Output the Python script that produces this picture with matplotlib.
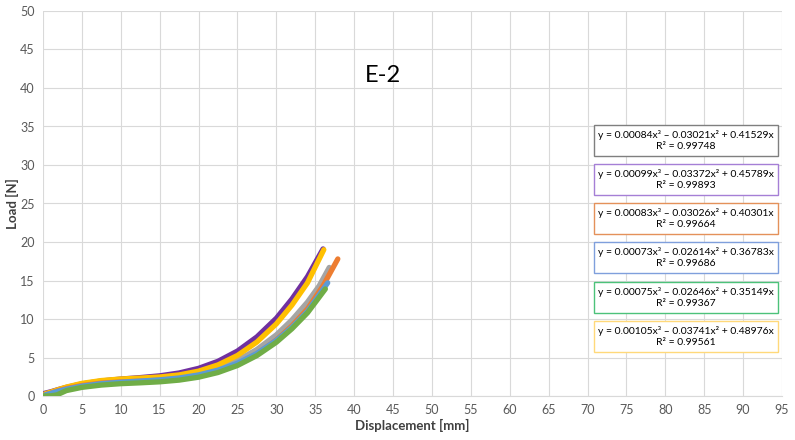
import matplotlib
matplotlib.use("Agg")
import matplotlib.pyplot as plt
from matplotlib.patches import Rectangle

plt.rcParams['font.family'] = ['Lato', 'DejaVu Sans']

# ---- data ----
gray_x = [0.3, 1, 2, 3, 5, 7.5, 10, 12.5, 15, 17.5, 20, 22.5, 25, 27.5, 30, 32, 34, 35.5, 36.8]
gray_y = [0.15, 0.38, 0.70, 0.98, 1.42, 1.77, 1.97, 2.11, 2.27, 2.52, 2.94, 3.62, 4.63, 6.04, 7.95, 9.88, 12.2, 14.3, 16.7]

purple_x = [0.2, 1, 2, 3, 5, 7.5, 10, 12.5, 15, 17.5, 20, 22.5, 25, 27.5, 30, 32, 34, 36.0]
purple_y = [0.35, 0.55, 0.85, 1.12, 1.57, 1.95, 2.20, 2.39, 2.62, 2.99, 3.59, 4.51, 5.84, 7.68, 10.1, 12.6, 15.5, 19.1]

orange_x = [0.3, 1, 2, 3, 5, 7.5, 10, 12.5, 15, 17.5, 20, 22.5, 25, 27.5, 30, 32, 34, 36, 37.9]
orange_y = [0.15, 0.37, 0.69, 0.96, 1.36, 1.67, 1.83, 1.93, 2.04, 2.23, 2.60, 3.20, 4.13, 5.46, 7.27, 9.11, 11.3, 14.3, 17.8]

blue_x = [0.3, 1, 2, 3, 5, 7.5, 10, 12.5, 15, 17.5, 20, 22.5, 25, 27.5, 30, 32, 34, 36.6]
blue_y = [0.15, 0.34, 0.64, 0.89, 1.28, 1.60, 1.79, 1.94, 2.10, 2.34, 2.74, 3.36, 4.26, 5.53, 7.22, 8.92, 11.0, 14.7]

green_x = [0, 1, 1.8, 3, 5, 7.5, 10, 12.5, 15, 17.5, 20, 22.5, 25, 27.5, 30, 32, 34, 36.3]
green_y = [0.0, 0.02, 0.15, 0.70, 1.12, 1.42, 1.60, 1.71, 1.84, 2.06, 2.44, 3.05, 3.96, 5.25, 6.98, 8.73, 10.8, 13.9]

yellow_x = [0.3, 1, 2, 3, 5, 7.5, 10, 12.5, 15, 17.5, 20, 22.5, 25, 27.5, 30, 32, 34, 36.1]
yellow_y = [0.30, 0.50, 0.84, 1.16, 1.64, 2.01, 2.21, 2.33, 2.47, 2.74, 3.23, 4.04, 5.27, 7.01, 9.37, 11.8, 14.7, 19.0]

fit_labels = [
    "y = 0.00084x\u00b3 \u2013 0.03021x\u00b2 + 0.41529x\nR\u00b2 = 0.99748",
    "y = 0.00099x\u00b3 \u2013 0.03372x\u00b2 + 0.45789x\nR\u00b2 = 0.99893",
    "y = 0.00083x\u00b3 \u2013 0.03026x\u00b2 + 0.40301x\nR\u00b2 = 0.99664",
    "y = 0.00073x\u00b3 \u2013 0.02614x\u00b2 + 0.36783x\nR\u00b2 = 0.99686",
    "y = 0.00075x\u00b3 \u2013 0.02646x\u00b2 + 0.35149x\nR\u00b2 = 0.99367",
    "y = 0.00105x\u00b3 \u2013 0.03741x\u00b2 + 0.48976x\nR\u00b2 = 0.99561",
]
box_colors = ['#7f7f7f', '#a57fd6', '#e4915a', '#7f9fdc', '#4cc27a', '#ffd97a']

x_ticks = list(range(0, 100, 5))
y_ticks = list(range(0, 55, 5))

title = "E-2"
xlabel = "Displacement [mm]"
ylabel = "Load [N]"

# ---- figure ----
fig = plt.figure(figsize=(7.95, 4.40), dpi=100)
ax = fig.add_axes([43/795, 1 - 396/440, 739/795, 385/440])

series = [
    (gray_x, gray_y, '#a5a5a5', 2),
    (purple_x, purple_y, '#7030a0', 3),
    (yellow_x, yellow_y, '#ffc000', 4),
    (orange_x, orange_y, '#ed7d31', 5),
    (blue_x, blue_y, '#5b9bd5', 6),
    (green_x, green_y, '#70ad47', 7),
]
for xs, ys, c, z in series:
    ax.plot(xs, ys, color=c, lw=3.8, solid_capstyle='round', solid_joinstyle='round', zorder=z)

ax.set_xlim(0, 95)
ax.set_ylim(0, 50)
ax.set_xticks(x_ticks)
ax.set_yticks(y_ticks)
ax.grid(True, color='#d9d9d9', lw=0.8)
ax.set_axisbelow(True)
for s in ['top', 'right', 'left']:
    ax.spines[s].set_visible(False)
ax.spines['bottom'].set_color('#d9d9d9')
ax.tick_params(length=0, labelsize=9, colors='#595959', pad=6)

ax.set_xlabel(xlabel, fontsize=9.5, fontweight='bold', color='#404040', labelpad=2)
ax.set_ylabel(ylabel, fontsize=9.5, fontweight='bold', color='#404040', labelpad=1)

ax.text((383 - 43) / 739, (396 - 75) / 385, title, transform=ax.transAxes,
        fontsize=17, ha='center', va='center', color='#000000')

box_tops = [125, 164, 203, 242, 282, 321]
for top, lab, ec in zip(box_tops, fit_labels, box_colors):
    x0 = (594 - 43) / 739
    w = 184 / 739
    y0 = (396 - top - 31) / 385
    h = 31 / 385
    ax.add_patch(Rectangle((x0, y0), w, h, transform=ax.transAxes, facecolor='white',
                           edgecolor=ec, lw=1.0, zorder=10, clip_on=False))
    ax.text(x0 + w / 2, y0 + h / 2, lab, transform=ax.transAxes, ha='center', va='center',
            fontsize=7.5, color='#000000', linespacing=1.2, zorder=11)

fig.savefig("out.png", dpi=100)
